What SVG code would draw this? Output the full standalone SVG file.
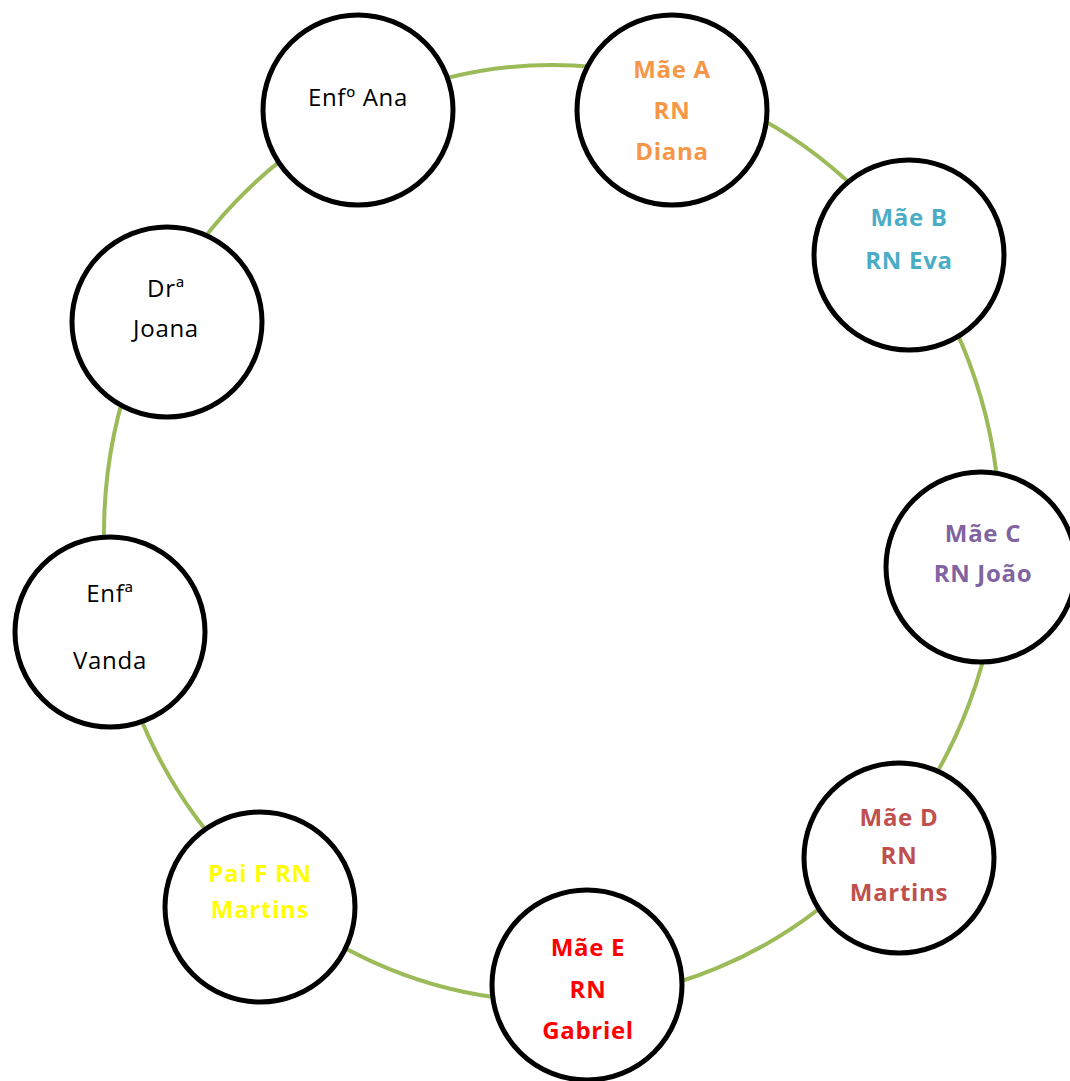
<svg xmlns="http://www.w3.org/2000/svg" width="1070" height="1081" viewBox="0 0 1070 1081">
  <style>
    .ring { fill: none; stroke: #9BBB59; stroke-width: 4; }
    .node { fill: #FFFFFF; stroke: #000000; stroke-width: 5; }
    text { font-family: "Open Sans", "Liberation Sans", sans-serif; font-size: 24px; text-anchor: middle; letter-spacing: 0.7px; }
    .b { font-weight: bold; }
    .k { fill: #000000; }
  </style>
  <rect width="1070" height="1081" fill="#FFFFFF"/>
  <g id="connectors">
    <ellipse class="ring" cx="552" cy="533" rx="448" ry="468"/>
  </g>
  <g id="enfo-ana">
    <circle class="node" cx="358" cy="110" r="95"/>
    <text class="k" x="358" y="106">Enfº Ana</text>
  </g>
  <g id="mae-a" fill="#F79646">
    <circle class="node" cx="672" cy="110" r="95"/>
    <text class="b" x="672" y="78">Mãe A</text>
    <text class="b" x="672" y="119">RN</text>
    <text class="b" x="672" y="160">Diana</text>
  </g>
  <g id="mae-b" fill="#4BACC6">
    <circle class="node" cx="909" cy="255" r="95"/>
    <text class="b" x="909" y="226">Mãe B</text>
    <text class="b" x="909" y="269">RN Eva</text>
  </g>
  <g id="mae-c" fill="#8064A2">
    <circle class="node" cx="981" cy="567" r="95"/>
    <text class="b" x="983" y="542">Mãe C</text>
    <text class="b" x="983" y="582">RN João</text>
  </g>
  <g id="mae-d" fill="#C0504D">
    <circle class="node" cx="899" cy="858" r="95"/>
    <text class="b" x="899" y="826">Mãe D</text>
    <text class="b" x="899" y="864">RN</text>
    <text class="b" x="899" y="901">Martins</text>
  </g>
  <g id="mae-e" fill="#FF0000">
    <circle class="node" cx="587" cy="985" r="95"/>
    <text class="b" x="588" y="956">Mãe E</text>
    <text class="b" x="588" y="998">RN</text>
    <text class="b" x="588" y="1039">Gabriel</text>
  </g>
  <g id="pai-f" fill="#FFFF00">
    <circle class="node" cx="260" cy="907" r="95"/>
    <text class="b" x="260" y="882">Pai F RN</text>
    <text class="b" x="260" y="918">Martins</text>
  </g>
  <g id="enfa-vanda">
    <circle class="node" cx="110" cy="632" r="95"/>
    <text class="k" x="110" y="602">Enfª</text>
    <text class="k" x="110" y="669">Vanda</text>
  </g>
  <g id="dra-joana">
    <circle class="node" cx="167" cy="322" r="95"/>
    <text class="k" x="166" y="297">Drª</text>
    <text class="k" x="166" y="337">Joana</text>
  </g>
</svg>
